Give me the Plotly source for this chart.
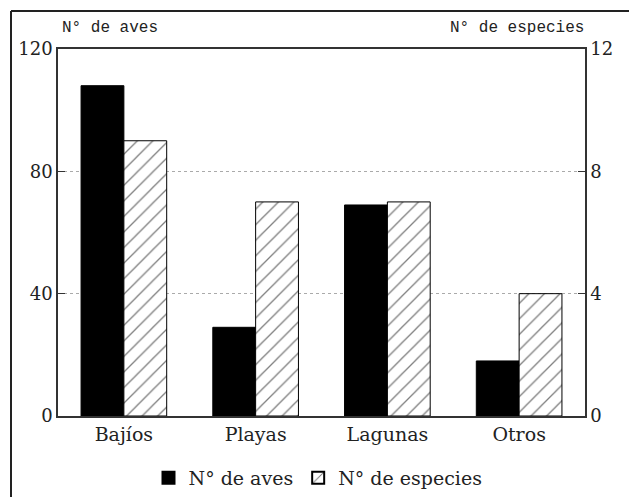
import plotly.graph_objects as go

categorias = ["Bajíos", "Playas", "Lagunas", "Otros"]
n_aves = [108, 29, 69, 18]
n_especies = [9, 7, 7, 4]

left_ticks = [0, 40, 80, 120]
right_ticks = [0, 4, 8, 12]

FONT = "DejaVu Serif"
OFF = 8  # page body offset

fig = go.Figure()
fig.add_trace(go.Bar(
    x=categorias, y=n_aves, name="N° de aves", yaxis="y",
    offsetgroup="a",
    marker=dict(color="black", line=dict(color="black", width=1)),
))
fig.add_trace(go.Bar(
    x=categorias, y=n_especies, name="N° de especies", yaxis="y2",
    offsetgroup="b",
    marker=dict(color="white", line=dict(color="black", width=1),
                pattern=dict(shape="/", fgcolor="black", bgcolor="white",
                             size=11, solidity=0.12)),
))

W, H = 637, 497
# target page-pixel positions of the plot area
L, R, T, B = 58, 585, 49, 416
ml, mt = L - OFF, T - OFF
pw, ph = R - L, B - T
mr = W - ml - pw
mb = H - mt - ph

def px_x(x):
    return (x - L) / pw

def px_y(y):
    return (B - y) / ph

fig.update_layout(
    width=W, height=H,
    margin=dict(l=ml, r=mr, t=mt, b=mb, pad=0, autoexpand=False),
    paper_bgcolor="white", plot_bgcolor="white",
    barmode="group", bargap=0.35, bargroupgap=0,
    font=dict(family=FONT, size=15, color="#222"),
    xaxis=dict(showline=True, linecolor="#333", linewidth=1.5, mirror=True,
               ticks="", tickfont=dict(size=19, family=FONT)),
    yaxis=dict(range=[0, 120], tickvals=left_ticks, showline=True,
               linecolor="#333", linewidth=1.5, ticks="inside", ticklen=7,
               tickcolor="#333", showgrid=True, gridcolor="#aaa",
               griddash="dot", gridwidth=1, zeroline=False,
               tickfont=dict(size=18, family=FONT)),
    yaxis2=dict(range=[0, 12], tickvals=right_ticks, overlaying="y",
                side="right", showline=True, linecolor="#333", linewidth=1.5,
                ticks="inside", ticklen=7, tickcolor="#333", showgrid=False,
                zeroline=False, tickfont=dict(size=18, family=FONT)),
    legend=dict(orientation="h", x=px_x(318), xanchor="center",
                y=px_y(478), yanchor="middle",
                font=dict(size=19, family=FONT), itemsizing="constant",
                traceorder="normal", itemwidth=30),
    annotations=[
        dict(text="N° de aves", xref="paper", yref="paper",
             x=px_x(60), y=px_y(28), xanchor="left", yanchor="middle",
             showarrow=False, font=dict(size=16, family="Liberation Mono")),
        dict(text="N° de especies", xref="paper", yref="paper",
             x=px_x(586), y=px_y(28), xanchor="right", yanchor="middle",
             showarrow=False, font=dict(size=16, family="Liberation Mono")),
    ],
    shapes=[
        dict(type="line", xref="paper", yref="paper",
             x0=px_x(11), x1=px_x(11), y0=px_y(11), y1=px_y(510),
             line=dict(color="#222", width=2)),
        dict(type="line", xref="paper", yref="paper",
             x0=px_x(11), x1=px_x(650), y0=px_y(11), y1=px_y(11),
             line=dict(color="#222", width=2)),
    ],
)

fig.write_html("out.html")
